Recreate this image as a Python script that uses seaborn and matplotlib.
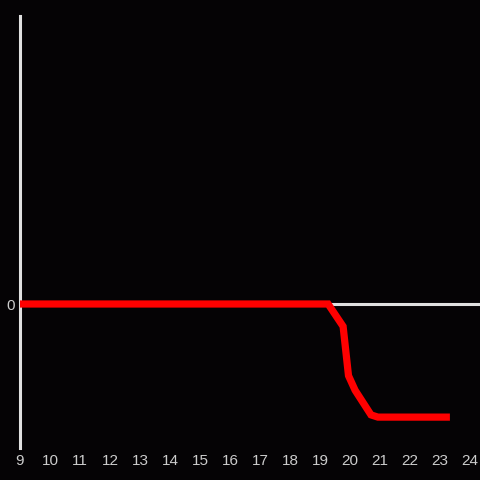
import seaborn as sns
import matplotlib.pyplot as plt
import pandas as pd

# hours of day and value (0 = baseline)
hours = [9.0, 12.0, 15.0, 18.0, 19.27, 19.77, 19.95, 20.17, 20.7, 20.93, 22.0, 23.33]
values = [0.0, 0.0, 0.0, 0.0, 0.0, -0.2, -0.64, -0.77, -0.99, -1.01, -1.01, -1.01]
xticks = list(range(9, 25))

df = pd.DataFrame({'hour': hours, 'value': values})

sns.set_style('dark')
plt.rcParams['font.family'] = ['Liberation Sans', 'DejaVu Sans']

bg = '#050305'
fig = plt.figure(figsize=(4.8, 4.8), dpi=100, facecolor=bg)
ax = fig.add_axes([20 / 480, 32 / 480, 460 / 480, 432 / 480])
ax.set_facecolor(bg)

ax.axhline(0, color='#e0e0e0', lw=2.2, zorder=1)
sns.lineplot(data=df, x='hour', y='value', ax=ax, color='#ff0000', lw=5.2,
             zorder=3, solid_joinstyle='miter', solid_capstyle='butt')

ax.set_xlim(9, 9 + 460 / 30)
ax.set_ylim(-144 / 112, 288 / 112)
ax.set_xticks(xticks)
ax.set_xticklabels([str(t) for t in xticks])
ax.set_yticks([0])
ax.set_yticklabels(['0'])
ax.tick_params(colors='#cccccc', labelsize=11, length=0, pad=4)
ax.set_xlabel('')
ax.set_ylabel('')
ax.grid(False)

for side in ['top', 'right', 'bottom']:
    ax.spines[side].set_visible(False)
ax.spines['left'].set_color('#e0e0e0')
ax.spines['left'].set_linewidth(2.2)

fig.savefig('out.png', dpi=100, facecolor=bg)
plt.close()
